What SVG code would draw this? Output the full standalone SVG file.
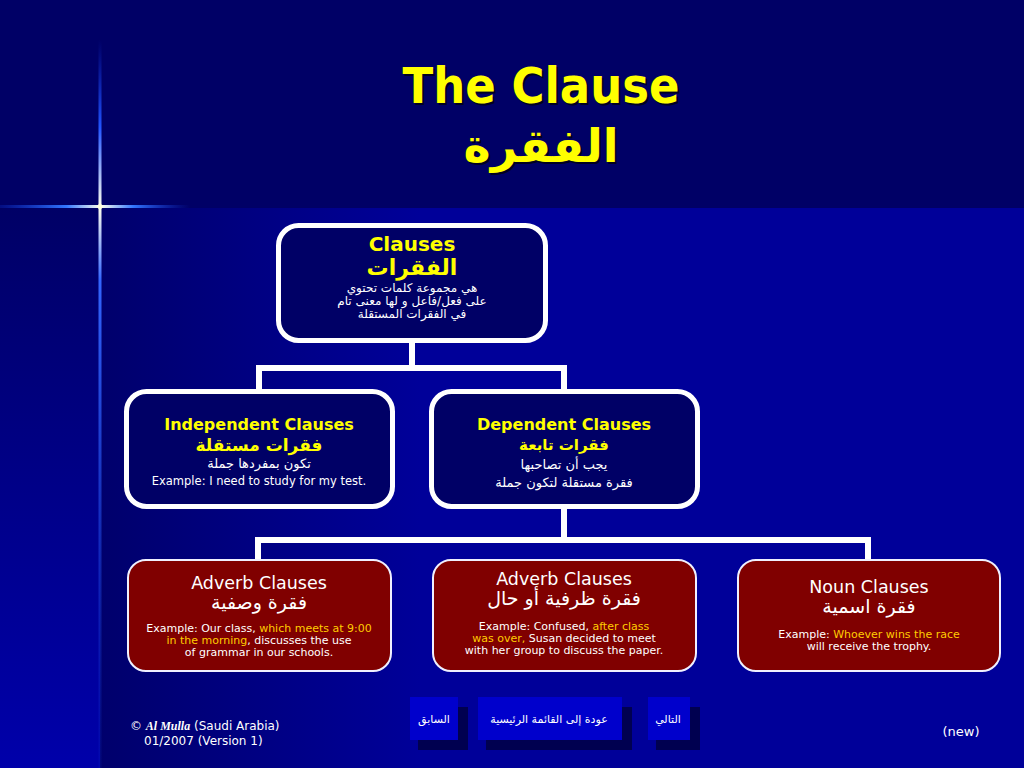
<svg xmlns="http://www.w3.org/2000/svg" width="1024" height="768" viewBox="0 0 1024 768">
<defs>
<linearGradient id="leftStrip" x1="0" y1="0" x2="0" y2="1">
<stop offset="0" stop-color="#000066"/>
<stop offset="1" stop-color="#0000aa"/>
</linearGradient>
<linearGradient id="mainBg" x1="100" y1="0" x2="420" y2="0" gradientUnits="userSpaceOnUse">
<stop offset="0" stop-color="#00006c"/>
<stop offset="1" stop-color="#000099"/>
</linearGradient>
<linearGradient id="starH" x1="0" y1="0" x2="190" y2="0" gradientUnits="userSpaceOnUse">
<stop offset="0" stop-color="#1144ee" stop-opacity="0.2"/>
<stop offset="0.35" stop-color="#3377ff"/>
<stop offset="0.53" stop-color="#ffffee"/>
<stop offset="0.7" stop-color="#3377ff"/>
<stop offset="1" stop-color="#1133dd" stop-opacity="0"/>
</linearGradient>
<linearGradient id="starV" x1="0" y1="40" x2="0" y2="768" gradientUnits="userSpaceOnUse">
<stop offset="0" stop-color="#1133dd" stop-opacity="0"/>
<stop offset="0.12" stop-color="#2255ff"/>
<stop offset="0.23" stop-color="#ffffee"/>
<stop offset="0.33" stop-color="#3366ff"/>
<stop offset="1" stop-color="#1133cc" stop-opacity="0.15"/>
</linearGradient>
</defs>
<style>
.blueBox{fill:#000066;stroke:#ffffff;stroke-width:5}
.redBox{fill:#800000;stroke:#f0f0ff;stroke-width:2}
.conn{stroke:#ffffff;stroke-width:6;fill:none;stroke-linecap:square}
text{font-family:"DejaVu Sans","Liberation Sans",sans-serif;text-anchor:middle}
.hdr{fill:#ffff00;font-weight:bold}
.w{fill:#ffffff}
.gold{fill:#ffcc00}
.title{fill:#ffff00;font-weight:bold}
.shadow{fill:#000022;font-weight:bold}
.btnFace{fill:#0000cc}
.btnShade{fill:#000050}
.btnText{fill:#ffffff;font-size:11px}
</style>

<g id="background">
<rect x="0" y="0" width="1024" height="768" fill="#000066"/>
<rect x="0" y="208" width="100" height="560" fill="url(#leftStrip)"/>
<rect x="100" y="208" width="924" height="560" fill="url(#mainBg)"/>
<rect x="0" y="205" width="190" height="3" fill="url(#starH)"/>
<rect x="98.5" y="40" width="3" height="728" fill="url(#starV)"/>
<circle cx="100" cy="206.5" r="2.5" fill="#ffffdd"/>
</g>

<g id="title">
<text class="shadow" x="543" y="105" font-size="50" textLength="277" lengthAdjust="spacingAndGlyphs">The Clause</text>
<text class="title" x="541" y="103" font-size="50" textLength="277" lengthAdjust="spacingAndGlyphs">The Clause</text>
<text class="shadow" x="543" y="164" font-size="46">الفقرة</text>
<text class="title" x="541" y="162" font-size="46">الفقرة</text>
</g>

<g id="connectors">
<path class="conn" d="M412,343 V368 M259,368 H564 M259,368 V389 M564,368 V389"/>
<path class="conn" d="M564,509 V540 M258,540 H868 M258,540 V558 M868,540 V558"/>
</g>

<g id="node-clauses">
<rect class="blueBox" x="278.5" y="225.5" width="267" height="115" rx="20"/>
<text class="hdr" x="412" y="251" font-size="20">Clauses</text>
<text class="hdr" x="412" y="275" font-size="22">الفقرات</text>
<text class="w" x="412" y="292" font-size="12">هي مجموعة كلمات تحتوي</text>
<text class="w" x="412" y="305" font-size="12">على فعل/فاعل و لها معنى تام</text>
<text class="w" x="412" y="318" font-size="12">في الفقرات المستقلة</text>
</g>

<g id="node-independent">
<rect class="blueBox" x="126.5" y="391.5" width="266" height="115" rx="20"/>
<text class="hdr" x="259" y="430" font-size="16">Independent Clauses</text>
<text class="hdr" x="259" y="451" font-size="17">فقرات مستقلة</text>
<text class="w" x="259" y="468" font-size="13">تكون بمفردها جملة</text>
<text class="w" x="259" y="485" font-size="11.5">Example: I need to study for my test.</text>
</g>

<g id="node-dependent">
<rect class="blueBox" x="431.5" y="391.5" width="266" height="115" rx="20"/>
<text class="hdr" x="564" y="430" font-size="16">Dependent Clauses</text>
<text class="hdr" x="564" y="450" font-size="15">فقرات تابعة</text>
<text class="w" x="564" y="469" font-size="13">يجب أن تصاحبها</text>
<text class="w" x="564" y="487" font-size="13">فقرة مستقلة لتكون جملة</text>
</g>

<g id="node-adverb1">
<rect class="redBox" x="128" y="560" width="263" height="111" rx="18"/>
<text class="w" x="259" y="589" font-size="17.5">Adverb Clauses</text>
<text class="w" x="259" y="609" font-size="19">فقرة وصفية</text>
<text class="w" x="259" y="632" font-size="11"><tspan>Example: Our class, </tspan><tspan class="gold">which meets at 9:00</tspan></text>
<text class="w" x="259" y="644" font-size="11"><tspan class="gold">in the morning</tspan><tspan>, discusses the use</tspan></text>
<text class="w" x="259" y="656" font-size="11">of grammar in our schools.</text>
</g>

<g id="node-adverb2">
<rect class="redBox" x="433" y="560" width="263" height="111" rx="18"/>
<text class="w" x="564" y="585" font-size="17.5">Adverb Clauses</text>
<text class="w" x="564" y="605" font-size="19">فقرة ظرفية أو حال</text>
<text class="w" x="564" y="630" font-size="11"><tspan>Example: Confused, </tspan><tspan class="gold">after class</tspan></text>
<text class="w" x="564" y="642" font-size="11"><tspan class="gold">was over,</tspan><tspan> Susan decided to meet</tspan></text>
<text class="w" x="564" y="654" font-size="11">with her group to discuss the paper.</text>
</g>

<g id="node-noun">
<rect class="redBox" x="738" y="560" width="262" height="111" rx="18"/>
<text class="w" x="869" y="593" font-size="17.5">Noun Clauses</text>
<text class="w" x="869" y="613" font-size="19">فقرة اسمية</text>
<text class="w" x="869" y="638" font-size="11"><tspan>Example: </tspan><tspan class="gold">Whoever wins the race</tspan></text>
<text class="w" x="869" y="650" font-size="11">will receive the trophy.</text>
</g>

<g id="nav-prev">
<rect class="btnShade" x="418" y="707" width="50" height="43"/>
<rect class="btnFace" x="410" y="697" width="48" height="43"/>
<text class="btnText" x="434" y="723">السابق</text>
</g>
<g id="nav-home">
<rect class="btnShade" x="486" y="707" width="146" height="43"/>
<rect class="btnFace" x="478" y="697" width="144" height="43"/>
<text class="btnText" x="549" y="723">عودة إلى القائمة الرئيسية</text>
</g>
<g id="nav-next">
<rect class="btnShade" x="656" y="707" width="44" height="43"/>
<rect class="btnFace" x="648" y="697" width="42" height="43"/>
<text class="btnText" x="668" y="723">التالي</text>
</g>

<g id="footer">
<text class="w" x="130" y="730" font-size="12" style="text-anchor:start">© <tspan font-family="Liberation Serif, serif" font-style="italic" font-weight="bold">Al Mulla</tspan> (Saudi Arabia)</text>
<text class="w" x="144" y="745" font-size="12" style="text-anchor:start">01/2007 (Version 1)</text>
<text class="w" x="961" y="736" font-size="13">(new)</text>
</g>
</svg>
